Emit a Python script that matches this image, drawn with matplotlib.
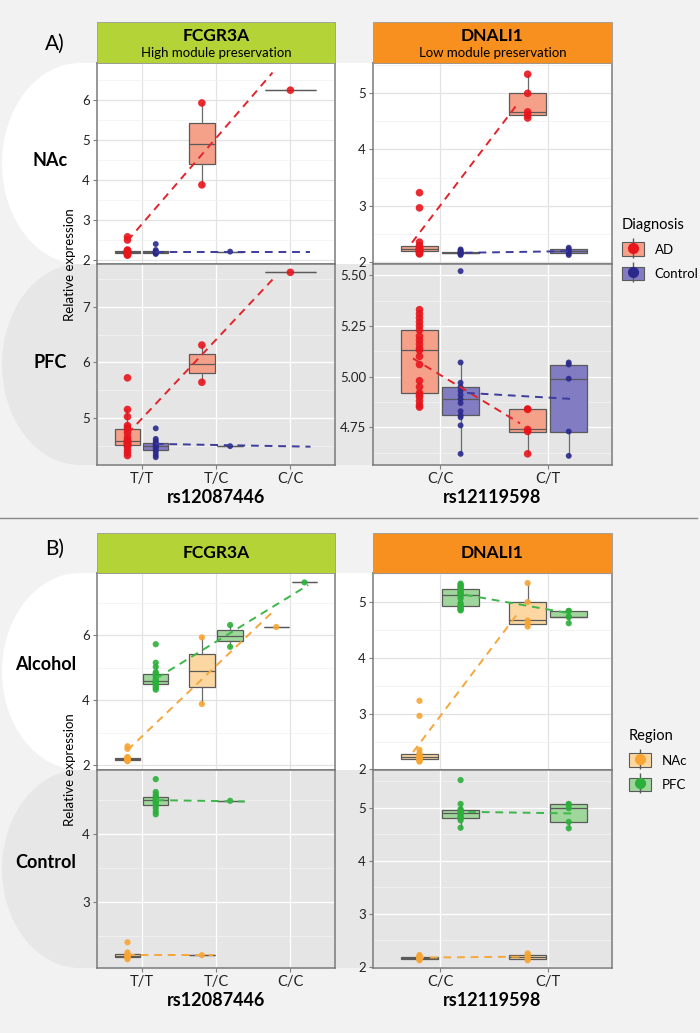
import matplotlib
matplotlib.use("Agg")
import matplotlib.pyplot as plt
from matplotlib.patches import Ellipse, Rectangle, Patch
from matplotlib.lines import Line2D
from matplotlib import cbook

plt.rcParams["font.family"] = ["Lato", "DejaVu Sans"]

# genotypes per SNP
FCGR3A_GENO = ["T/T", "T/C", "C/C"]
DNALI1_GENO = ["C/C", "C/T"]

# relative expression, one list per genotype
FCGR3A_NAC_AD = [[2.58, 2.5, 2.25, 2.23, 2.22, 2.21, 2.2, 2.2, 2.19, 2.18, 2.16, 2.15, 2.14, 2.12],
                 [3.88, 5.93], [6.25]]
FCGR3A_NAC_CTRL = [[2.4, 2.25, 2.22, 2.2, 2.2, 2.19, 2.18, 2.17, 2.15], [2.21], []]
FCGR3A_PFC_AD = [[5.72, 5.15, 5.02, 4.86, 4.82, 4.78, 4.73, 4.65, 4.6, 4.58, 4.57, 4.55, 4.53,
                  4.52, 4.5, 4.48, 4.42, 4.37, 4.32],
                 [5.64, 6.31], [7.62]]
FCGR3A_PFC_CTRL = [[4.81, 4.62, 4.58, 4.55, 4.53, 4.52, 4.5, 4.49, 4.47, 4.45, 4.42, 4.38, 4.33, 4.29],
                   [4.49], []]

DNALI1_NAC_AD = [[3.23, 2.96, 2.35, 2.29, 2.26, 2.24, 2.23, 2.22, 2.21, 2.2, 2.19, 2.18, 2.17, 2.15, 2.14],
                 [4.56, 4.61, 4.67, 5.0, 5.34]]
DNALI1_NAC_CTRL = [[2.22, 2.2, 2.18, 2.17, 2.16, 2.15, 2.15, 2.14, 2.12],
                   [2.25, 2.22, 2.19, 2.15, 2.12]]
DNALI1_PFC_AD = [[4.85, 4.86, 4.88, 4.9, 4.91, 4.92, 4.95, 4.98, 5.06, 5.1, 5.13, 5.14, 5.16, 5.18,
                  5.2, 5.23, 5.25, 5.27, 5.29, 5.31, 5.33],
                 [4.62, 4.73, 4.74, 4.84, 4.84]]
DNALI1_PFC_CTRL = [[4.62, 4.76, 4.8, 4.81, 4.83, 4.87, 4.89, 4.91, 4.93, 4.95, 4.97, 5.07, 5.52],
                   [4.61, 4.73, 4.99, 5.06, 5.07]]

# fitted trend lines: (x ends, y ends), x in genotype index
TREND_A_NAC_FCGR3A = [([-0.19, 1.76], [2.48, 6.69]), ([0.19, 2.27], [2.19, 2.19])]
TREND_A_PFC_FCGR3A = [([-0.19, 1.76], [4.71, 7.49]), ([0.19, 2.27], [4.53, 4.48])]
TREND_A_NAC_DNALI1 = [([-0.26, 0.72], [2.34, 4.82]), ([0.23, 1.22], [2.16, 2.19])]
TREND_A_PFC_DNALI1 = [([-0.25, 0.74], [5.09, 4.77]), ([0.25, 1.23], [4.92, 4.89])]
TREND_B_ALC_FCGR3A = [([-0.19, 1.76], [2.46, 6.71]), ([0.2, 2.24], [4.67, 7.54])]
TREND_B_CTL_FCGR3A = [([-0.2, 0.96], [2.21, 2.21]), ([0.2, 1.39], [4.5, 4.48])]
TREND_B_ALC_DNALI1 = [([-0.25, 0.72], [2.31, 4.80]), ([0.23, 1.22], [5.13, 4.79])]
TREND_B_CTL_DNALI1 = [([-0.22, 0.81], [2.17, 2.19]), ([0.26, 1.25], [4.92, 4.89])]

# styles
AD = dict(box="#F5A088", dot="#E8151C", line="#E4232B", s=30)
CTRL = dict(box="#827CC2", dot="#2B2A8C", line="#3C3C9C", s=18)
NAC = dict(box="#FDD7A2", dot="#F8A532", line="#F5A73B", s=20)
PFC = dict(box="#9FD69B", dot="#2CAF3B", line="#3DB64A", s=20)

W, H = 700, 1033
fig = plt.figure(figsize=(W / 100, H / 100), dpi=100)
fig.patch.set_facecolor("#F2F2F2")


def fx(x):
    return x / W


def fy(y):
    return 1 - y / H


def band(top, bottom, color):
    cy = (top + bottom) / 2
    ry = (bottom - top) / 2
    fig.patches.append(Ellipse((fx(80), fy(cy)), 2 * 78 / W, 2 * ry / H, transform=fig.transFigure,
                               facecolor=color, edgecolor="none", zorder=-2))
    fig.patches.append(Rectangle((fx(80), fy(bottom)), fx(532), (bottom - top) / H,
                                 transform=fig.transFigure, facecolor=color, edgecolor="none", zorder=-2))


def header(left, right, top, bottom, color, title, sub=None):
    fig.patches.append(Rectangle((fx(left), fy(bottom)), (right - left) / W, (bottom - top) / H,
                                 transform=fig.transFigure, facecolor=color, edgecolor="#9a9a9a",
                                 lw=0.6, zorder=1))
    cx = fx((left + right) / 2)
    if sub:
        fig.text(cx, fy(top + 14), title, ha="center", va="center", fontsize=12.5, fontweight="bold")
        fig.text(cx, fy(top + 31), sub, ha="center", va="center", fontsize=9.5)
    else:
        fig.text(cx, fy((top + bottom) / 2), title, ha="center", va="center", fontsize=12.5,
                 fontweight="bold")


def new_axes(left, top, right, bottom):
    return fig.add_axes([fx(left), fy(bottom), (right - left) / W, (bottom - top) / H])


def draw_panel(ax, geno, data, styles, trends, ylim, major, minor, top_row, xlabel=None, fmt="%g"):
    ax.set_facecolor("white" if top_row else "#E5E5E5")
    for gi in range(len(geno)):
        present = [k for k in range(len(data)) if len(data[k][gi]) > 0]
        for j, k in enumerate(present):
            if len(present) == 2:
                pos, w = gi + (-0.19 if j == 0 else 0.19), 0.34
            else:
                pos, w = gi, 0.68
            vals = data[k][gi]
            st = styles[k]
            stats = cbook.boxplot_stats(vals)
            ax.bxp(stats, positions=[pos], widths=[w], patch_artist=True, showfliers=False,
                   showcaps=False, manage_ticks=False, zorder=2,
                   boxprops=dict(facecolor=st["box"], edgecolor="#5a5a5a", linewidth=0.9),
                   medianprops=dict(color="#5a5a5a", linewidth=0.9),
                   whiskerprops=dict(color="#6a6a6a", linewidth=0.9))
            ax.scatter([pos] * len(vals), vals, s=st["s"], color=st["dot"], alpha=0.9,
                       edgecolors="none", zorder=3)
    for (xs, ys), st in zip(trends, styles):
        ax.plot(xs, ys, color=st["line"], lw=1.4, ls=(0, (4, 3)), zorder=4)

    n = len(geno)
    if n == 3:
        ax.set_xlim(-0.6, 2.6)
    else:
        ax.set_xlim(-0.62, 1.59)
    ax.set_ylim(*ylim)
    ax.set_xticks(range(n))
    ax.set_yticks(major)
    ax.set_yticks(minor, minor=True)
    ax.yaxis.set_major_formatter(matplotlib.ticker.FormatStrFormatter(fmt))
    gmaj = "#E3E3E3" if top_row else "white"
    gmin = "#F0F0F0" if top_row else "#F4F4F4"
    ax.grid(which="major", color=gmaj, lw=0.9)
    ax.grid(which="minor", axis="y", color=gmin, lw=0.5)
    ax.set_axisbelow(True)
    ax.tick_params(which="major", length=3, color="#7f7f7f", labelsize=9.5, labelcolor="#222222", pad=2)
    ax.tick_params(which="minor", length=0)
    if top_row:
        ax.set_xticklabels([])
    else:
        ax.set_xticklabels(geno, fontsize=10.5)
        ax.set_xlabel(xlabel, fontsize=13, fontweight="bold", labelpad=2)
    for sp in ax.spines.values():
        sp.set_color("#7a7a7a")
        sp.set_linewidth(1.1)


# background bands behind rows
band(63, 264, "white")
band(264, 465, "#E7E7E7")
band(573, 770, "white")
band(770, 968, "#E7E7E7")

# separator line between A and B
fig.add_artist(Line2D([0, fx(697)], [fy(518), fy(518)], transform=fig.transFigure, color="#8a8a8a", lw=1))

header(97, 335, 22, 63, "#B4D337", "FCGR3A", "High module preservation")
header(373, 612, 22, 63, "#F7901E", "DNALI1", "Low module preservation")
header(97, 335, 533, 573, "#B4D337", "FCGR3A")
header(373, 612, 533, 573, "#F7901E", "DNALI1")

fig.text(fx(55), fy(44), "A)", fontsize=15, ha="center", va="center")
fig.text(fx(55), fy(549), "B)", fontsize=15, ha="center", va="center")
fig.text(fx(50), fy(160), "NAc", fontsize=13, fontweight="bold", ha="center", va="center")
fig.text(fx(50), fy(362), "PFC", fontsize=13, fontweight="bold", ha="center", va="center")
fig.text(fx(46), fy(664), "Alcohol", fontsize=13, fontweight="bold", ha="center", va="center")
fig.text(fx(46), fy(863), "Control", fontsize=13, fontweight="bold", ha="center", va="center")
fig.text(fx(70), fy(265), "Relative expression", fontsize=9.5, rotation=90, ha="center", va="center")
fig.text(fx(70), fy(770), "Relative expression", fontsize=9.5, rotation=90, ha="center", va="center")

# panel A: split by diagnosis
ax = new_axes(97, 63, 335, 264)
draw_panel(ax, FCGR3A_GENO, [FCGR3A_NAC_AD, FCGR3A_NAC_CTRL], [AD, CTRL], TREND_A_NAC_FCGR3A,
           (1.9, 6.93), [2, 3, 4, 5, 6], [2.5, 3.5, 4.5, 5.5, 6.5], True)
ax = new_axes(97, 264, 335, 465)
draw_panel(ax, FCGR3A_GENO, [FCGR3A_PFC_AD, FCGR3A_PFC_CTRL], [AD, CTRL], TREND_A_PFC_FCGR3A,
           (4.15, 7.77), [5, 6, 7], [4.5, 5.5, 6.5, 7.5], False, "rs12087446")
ax = new_axes(373, 63, 612, 264)
draw_panel(ax, DNALI1_GENO, [DNALI1_NAC_AD, DNALI1_NAC_CTRL], [AD, CTRL], TREND_A_NAC_DNALI1,
           (1.96, 5.54), [2, 3, 4, 5], [2.5, 3.5, 4.5, 5.5], True)
ax = new_axes(373, 264, 612, 465)
draw_panel(ax, DNALI1_GENO, [DNALI1_PFC_AD, DNALI1_PFC_CTRL], [AD, CTRL], TREND_A_PFC_DNALI1,
           (4.565, 5.555), [4.75, 5.0, 5.25, 5.5], [4.625, 4.875, 5.125, 5.375], False,
           "rs12119598", fmt="%.2f")

# panel B: split by region
ax = new_axes(97, 573, 335, 770)
draw_panel(ax, FCGR3A_GENO, [FCGR3A_NAC_AD, FCGR3A_PFC_AD], [NAC, PFC], TREND_B_ALC_FCGR3A,
           (1.85, 7.91), [2, 4, 6], [3, 5, 7], True)
ax = new_axes(97, 770, 335, 968)
draw_panel(ax, FCGR3A_GENO, [FCGR3A_NAC_CTRL, FCGR3A_PFC_CTRL], [NAC, PFC], TREND_B_CTL_FCGR3A,
           (2.02, 4.945), [3, 4], [2.5, 3.5, 4.5], False, "rs12087446")
ax = new_axes(373, 573, 612, 770)
draw_panel(ax, DNALI1_GENO, [DNALI1_NAC_AD, DNALI1_PFC_AD], [NAC, PFC], TREND_B_ALC_DNALI1,
           (1.99, 5.52), [2, 3, 4, 5], [2.5, 3.5, 4.5, 5.5], True)
ax = new_axes(373, 770, 612, 968)
draw_panel(ax, DNALI1_GENO, [DNALI1_NAC_CTRL, DNALI1_PFC_CTRL], [NAC, PFC], TREND_B_CTL_DNALI1,
           (1.975, 5.71), [2, 3, 4, 5], [2.5, 3.5, 4.5, 5.5], False, "rs12119598")


def key(st):
    return (Patch(facecolor=st["box"], edgecolor="#5a5a5a", lw=0.8),
            Line2D([], [], marker="|", markersize=15, color="#5a5a5a", ls="none"),
            Line2D([], [], marker="o", markersize=7, color=st["dot"], ls="none"))


leg = fig.legend([key(AD), key(CTRL)], ["AD", "Control"], title="Diagnosis",
                 loc="upper left", bbox_to_anchor=(fx(610), fy(206)), frameon=False,
                 fontsize=9.5, title_fontsize=10.5, handlelength=1.7, handleheight=1.2,
                 labelspacing=0.8, alignment="left")
leg = fig.legend([key(NAC), key(PFC)], ["NAc", "PFC"], title="Region",
                 loc="upper left", bbox_to_anchor=(fx(617), fy(717)), frameon=False,
                 fontsize=9.5, title_fontsize=10.5, handlelength=1.7, handleheight=1.2,
                 labelspacing=0.8, alignment="left")

fig.savefig("out.png", dpi=100, facecolor=fig.get_facecolor())
